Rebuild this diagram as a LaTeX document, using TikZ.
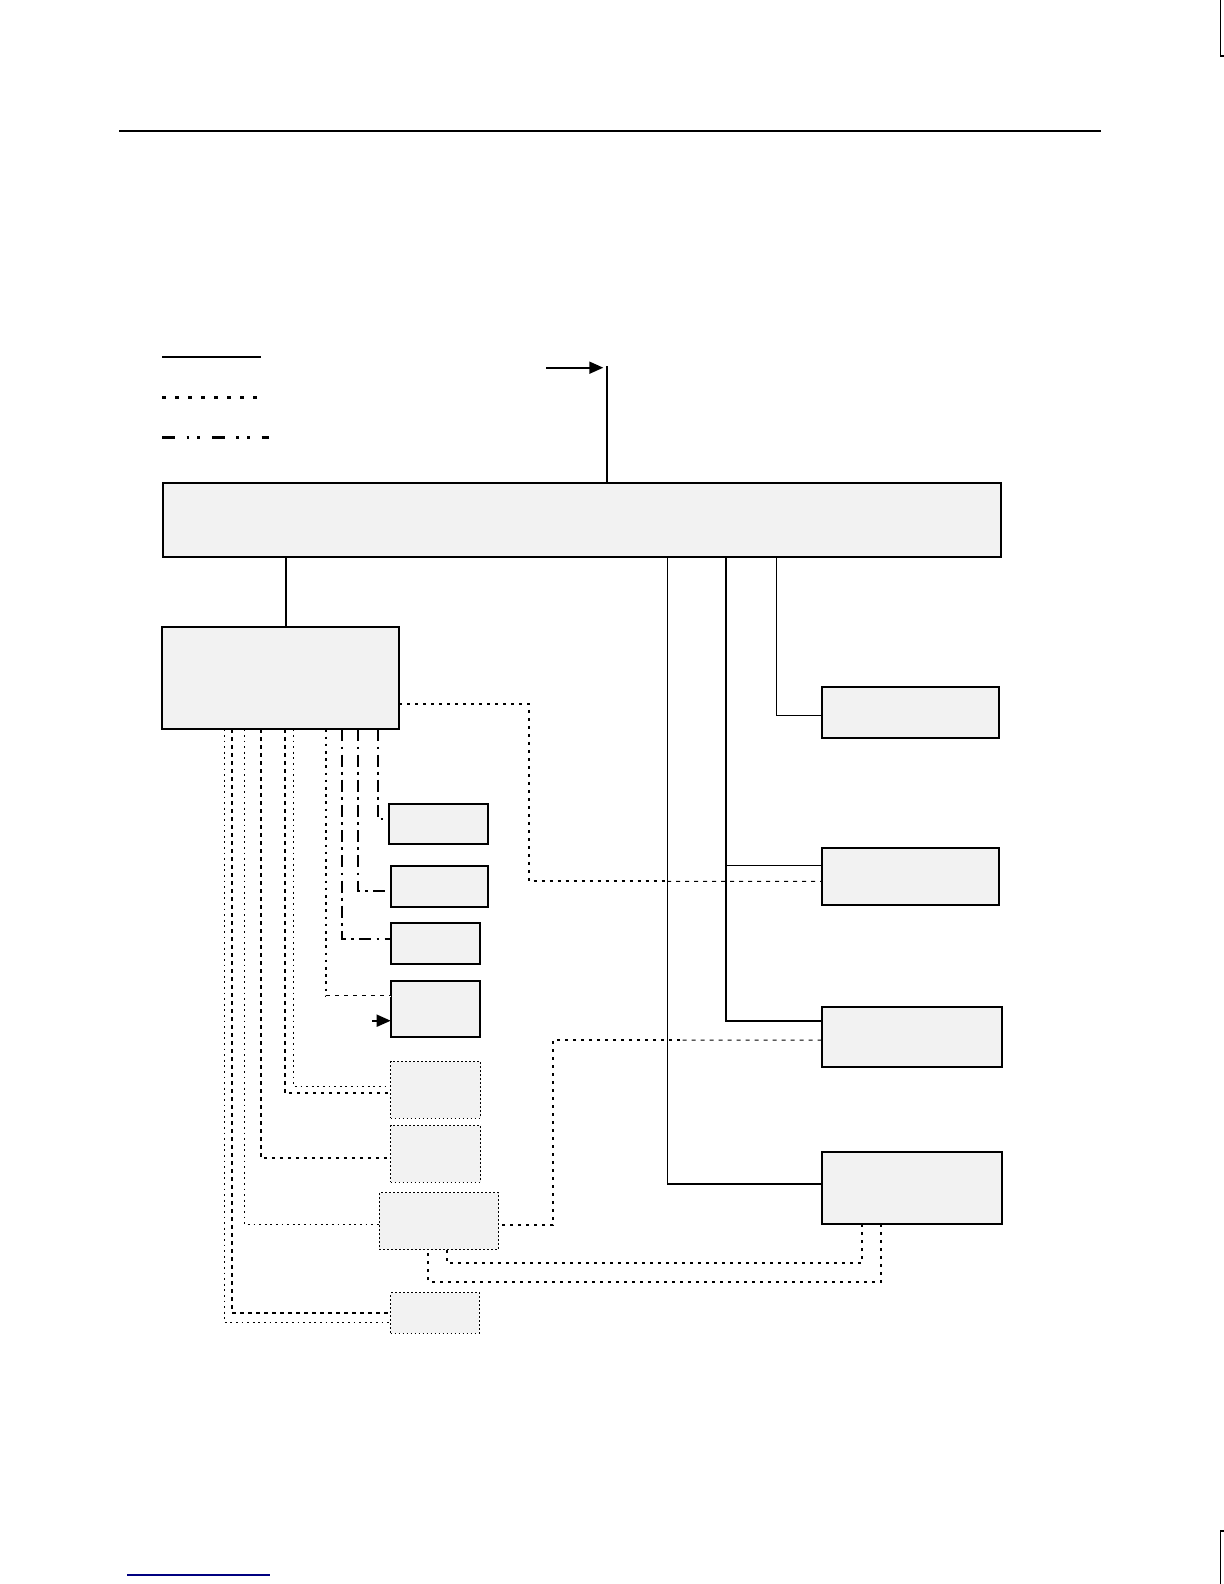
\documentclass[tikz,border=0pt]{standalone}
\usetikzlibrary{arrows.meta}
\definecolor{boxgray}{HTML}{F2F2F2}
\definecolor{navyline}{HTML}{000080}
\tikzset{
  gbox/.style={draw, line width=1pt, fill=boxgray, inner sep=0pt, outer sep=0pt},
  dbox/.style={draw, line width=0.5pt, dash pattern=on 0.8pt off 1.2pt, fill=boxgray, inner sep=0pt, outer sep=0pt},
  thk/.style={line width=0.9pt},
  thn/.style={line width=0.45pt},
  dotk/.style={line width=1pt, dash pattern=on 1.6pt off 2.4pt},
  dotn/.style={line width=0.5pt, dash pattern=on 0.9pt off 1.9pt},
  dotm/.style={line width=0.8pt, dash pattern=on 1.3pt off 2.3pt},
  dshd/.style={line width=1.1pt, dash pattern=on 6pt off 2.6pt on 1.4pt off 2.6pt},
  thdash/.style={line width=0.5pt, dash pattern=on 2pt off 2.5pt},
  legdot/.style={line width=1.8pt, dash pattern=on 1.8pt off 4.7pt},
  arr/.style={-{Triangle[length=7pt,width=6pt]}},
}
\begin{document}
\begin{tikzpicture}[x=0.5pt,y=-0.5pt]
\useasboundingbox (0,0) rectangle (1224,1584);

% page decorations
\coordinate (r0) at (119,131);
\draw[line width=0.8pt] (r0) -- ++(982,0);
\coordinate (tr) at (1220.7,0);
\draw[line width=0.6pt] (tr) -- ++(0,56) -- ++(3.3,0);
\coordinate (br) at (1224,1531);
\draw[line width=0.6pt] (br) -- ++(-3.3,0) -- ++(0,53);
\coordinate (bl) at (127,1575);
\draw[navyline, line width=1pt] (bl) -- ++(143,0);

% legend
\coordinate (lg1) at (162,356.7);
\coordinate (lg2) at (162,397.3);
\coordinate (lg3) at (162,437.7);
\draw[line width=1.2pt] (lg1) -- ++(99,0);
\draw[legdot] (lg2) -- ++(96.3,0);
\draw[line width=1.5pt, dash pattern=on 6.5pt off 5.8pt on 1.2pt off 4.2pt on 1.2pt off 6pt] (lg3) -- ++(107,0);

% boxes
\node[gbox, minimum width=418.85pt, minimum height=37pt] (B) at (582.15,519.7) {};
\node[gbox, minimum width=118.35pt, minimum height=51.15pt] (L) at (280.65,678.15) {};
\node[gbox, minimum width=88.5pt, minimum height=25.65pt] (R1) at (910.8,712.35) {};
\node[gbox, minimum width=88.8pt, minimum height=28.65pt] (R2) at (910.5,876.35) {};
\node[gbox, minimum width=90.3pt, minimum height=30.15pt] (R3) at (912,1036.85) {};
\node[gbox, minimum width=90.3pt, minimum height=36.15pt] (R4) at (912,1187.85) {};
\node[gbox, minimum width=49.5pt, minimum height=20.3pt] (S1) at (438.8,824) {};
\node[gbox, minimum width=48.8pt, minimum height=20.35pt] (S2) at (439.5,886.65) {};
\node[gbox, minimum width=44.65pt, minimum height=20.35pt] (S3) at (435.35,943.65) {};
\node[gbox, minimum width=44.65pt, minimum height=28pt] (S4) at (435.35,1008.7) {};
\node[dbox, minimum width=45pt, minimum height=28.15pt] (D1) at (435.7,1089.85) {};
\node[dbox, minimum width=45pt, minimum height=28.15pt] (D2) at (435.7,1153.85) {};
\node[dbox, minimum width=59.7pt, minimum height=28.3pt] (Dw) at (439,1221) {};
\node[dbox, minimum width=44.3pt, minimum height=20.3pt] (D4) at (435,1313) {};

% top input
\coordinate (ain) at (546,367.7);
\draw[thk,arr] (ain) -- ++(57.3,0);
\draw[thk] ([xshift=12.3pt]B.north) -- ++(0,-116.7);

% big box to left box
\draw[thk] ([xshift=61.35pt]B.south west) -- ++(0,70.3);

% big box to right boxes
\draw[thn] ([xshift=252pt]B.south west) |- coordinate[pos=0.5] (c4) ([yshift=2.1pt]R4.west);
\draw[thk] (c4) -- ([yshift=2.1pt]R4.west);
\draw[thk] ([xshift=281.35pt]B.south west) |- ([yshift=8.1pt]R3.west);
\draw[thn] ([yshift=5.7pt]R2.west) -- ++(-95.7,0);
\draw[thn] ([xshift=306.5pt]B.south west) |- ([yshift=-1.3pt]R1.west);

% left box to R2 (dotted)
\coordinate (k1) at (529,881.3);
\coordinate (k1b) at (667,881.3);
\draw[dotk] ([yshift=-12.9pt]L.east) -| (k1) -- (k1b);
\draw[thdash] (k1b) -- ([yshift=-2.5pt]R2.west);

% R3 to wide dotted box
\coordinate (k2) at (553,1225);
\coordinate (k2b) at (680,1040);
\draw[thdash] ([yshift=-1.6pt]R3.west) -- (k2b);
\draw[dotk] (k2b) -| (k2) -- ([yshift=-2pt]Dw.east);

% R4 bottom to wide dotted box
\draw[dotk] ([xshift=20.15pt]R4.south west) -- ++(0,38.7) -| ([xshift=33.7pt]Dw.south west);
\draw[dotk] ([xshift=29.65pt]R4.south west) -- ++(0,57.7) -| ([xshift=24.5pt]Dw.south west);

% left box bottom connectors
\draw[dotn] ([xshift=31pt]L.south west) |- ([yshift=-4.65pt]D4.west);
\draw[dotk] ([xshift=34.85pt]L.south west) |- (D4.west);
\draw[dotn] ([xshift=41pt]L.south west) |- ([yshift=-1.5pt]Dw.west);
\draw[dotk] ([xshift=49.2pt]L.south west) |- ([yshift=-2.2pt]D2.west);
\draw[dotk] ([xshift=61.35pt]L.south west) |- ([yshift=-1.7pt]D1.west);
\draw[dotn] ([xshift=65.5pt]L.south west) |- ([yshift=1.9pt]D1.west);
\draw[dotm] ([xshift=81.85pt]L.south west) |- coordinate[pos=0.5] (c7) ([yshift=6.5pt]S4.west);
\draw[white, line width=1.2pt] (c7) -- ([yshift=6.5pt]S4.west);
\draw[thdash] (c7) -- ([yshift=6.5pt]S4.west);
\draw[dshd] ([xshift=89.85pt]L.south west) |- ([yshift=2.5pt]S3.west);
\draw[dshd] ([xshift=97.85pt]L.south west) |- ([yshift=-2pt]S2.west);
\draw[dshd] ([xshift=107.7pt]L.south west) |- ([yshift=2.35pt]S1.west);

% arrow into S4
\draw[thk,arr] ([xshift=-9.35pt,yshift=-6pt]S4.west) -- ([yshift=-6pt]S4.west);
\end{tikzpicture}
\end{document}
